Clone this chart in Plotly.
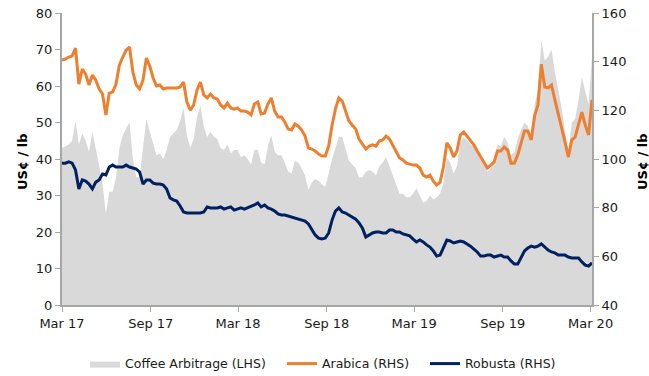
import pandas as pd
import plotly.graph_objects as go

# Weekly observations, Mar 2017 - Mar 2020 (US cents per lb)
dates = pd.date_range("2017-03-01", periods=158, freq="7D")

arabica = [
    140.7, 141.1, 141.9, 142.3, 145.6, 130.8, 137.0, 134.9, 130.4, 134.5,
    132.5, 128.8, 126.7, 118.1, 127.1, 127.5, 130.8, 138.6, 141.9, 144.8,
    146.0, 135.7, 130.4, 128.8, 132.5, 141.5, 138.2, 133.3, 130.0, 130.4,
    128.8, 129.2, 129.2, 129.2, 129.2, 129.6, 131.6, 123.4, 120.1, 122.2,
    128.4, 131.6, 126.3, 125.1, 126.7, 125.1, 124.7, 122.2, 121.0, 123.0,
    121.0, 120.5, 121.0, 119.7, 119.7, 119.3, 118.1, 122.6, 123.4, 118.5,
    118.9, 122.6, 125.1, 119.7, 117.3, 117.3, 115.2, 112.3, 111.9, 114.4,
    113.5, 111.9, 109.4, 104.5, 104.1, 103.3, 102.0, 101.2, 101.2, 105.3,
    113.9, 120.5, 125.1, 123.8, 120.1, 115.6, 113.9, 112.3, 108.2, 106.2,
    104.1, 105.3, 105.8, 105.3, 107.4, 107.8, 109.4, 108.2, 105.8, 102.9,
    100.4, 99.6, 98.3, 97.9, 97.5, 97.5, 96.3, 93.4, 92.6, 93.4,
    90.9, 89.3, 90.5, 96.7, 106.6, 104.5, 100.8, 103.3, 109.9, 111.1,
    109.4, 107.8, 105.8, 103.3, 100.8, 98.8, 96.3, 97.5, 98.8, 103.3,
    103.3, 104.9, 103.7, 98.3, 98.3, 101.6, 107.0, 111.5, 111.5, 107.8,
    117.7, 122.2, 139.0, 129.6, 129.2, 130.4, 124.3, 118.9, 113.5, 107.0,
    100.8, 107.8, 109.0, 113.9, 119.3, 113.9, 109.9, 124.3,
]

robusta = [
    98.3, 98.3, 98.8, 98.3, 95.5, 87.7, 91.4, 90.9, 89.7, 87.7,
    90.5, 91.4, 93.8, 93.4, 96.7, 97.5, 96.7, 96.7, 96.7, 97.5,
    96.7, 96.3, 95.9, 94.6, 89.7, 91.4, 91.4, 90.1, 89.7, 89.7,
    89.3, 87.7, 84.0, 83.2, 82.7, 80.7, 78.2, 77.8, 77.8, 77.8,
    77.8, 77.8, 78.2, 80.3, 79.9, 79.9, 79.9, 80.3, 79.4, 79.9,
    80.3, 79.0, 79.4, 79.9, 79.4, 79.9, 80.3, 81.1, 81.9, 80.3,
    81.1, 79.9, 79.4, 78.6, 77.4, 77.0, 77.0, 76.6, 76.2, 75.8,
    75.3, 74.9, 74.5, 73.3, 70.8, 68.8, 67.5, 67.1, 67.5, 69.6,
    74.9, 78.6, 79.9, 78.2, 77.8, 77.0, 76.2, 75.3, 73.7, 71.6,
    67.9, 68.8, 69.6, 70.0, 70.0, 69.6, 69.6, 70.8, 70.8, 70.0,
    70.0, 69.2, 68.8, 68.4, 67.1, 65.9, 66.7, 65.9, 64.7, 63.8,
    62.2, 60.1, 60.5, 63.8, 66.7, 66.3, 65.5, 65.9, 66.3, 65.9,
    65.1, 64.2, 63.0, 61.8, 60.1, 60.1, 60.5, 60.5, 59.7, 60.1,
    60.5, 59.7, 59.7, 58.1, 56.8, 56.8, 59.7, 62.2, 63.4, 64.2,
    63.8, 64.2, 65.1, 63.8, 62.6, 61.8, 61.4, 60.5, 60.5, 60.5,
    59.7, 59.3, 59.3, 59.3, 57.7, 56.4, 56.0, 57.3,
]

arbitrage = [
    43.0, 43.5, 44.0, 45.0, 50.5, 44.0, 47.0, 45.0, 42.0, 47.5,
    43.0, 38.5, 33.5, 25.0, 31.0, 31.0, 35.0, 43.0, 46.5, 48.5,
    50.0, 40.0, 35.0, 35.0, 44.0, 51.0, 47.5, 44.0, 41.0, 41.5,
    40.0, 42.5, 46.0, 47.0, 48.0, 50.5, 54.0, 46.5, 43.0, 45.5,
    51.5, 54.5, 49.0, 46.0, 47.5, 46.0, 45.5, 43.0, 42.5, 44.0,
    41.5, 42.5, 42.5, 40.5, 41.0, 40.0, 38.5, 42.5, 42.5, 39.0,
    38.5, 43.5, 46.5, 42.0, 41.0, 41.0, 39.0, 36.5, 36.0, 39.5,
    39.0, 37.5, 35.5, 31.5, 33.5, 34.5, 34.0, 33.0, 32.5, 36.0,
    40.0, 43.0, 46.0, 46.0, 43.0, 39.5, 38.5, 37.5, 35.0, 35.0,
    36.5, 37.0, 36.5, 35.5, 38.0, 39.0, 40.5, 38.0, 35.5, 33.0,
    30.5, 30.5, 29.5, 29.5, 30.5, 32.0, 30.0, 28.0, 28.5, 30.0,
    29.0, 29.5, 30.5, 33.5, 40.5, 39.0, 36.0, 38.0, 44.5, 46.0,
    45.0, 44.0, 43.5, 42.0, 41.0, 39.0, 36.5, 37.5, 39.5, 44.0,
    43.5, 46.0, 44.5, 41.0, 42.0, 45.5, 48.0, 50.0, 49.0, 44.5,
    55.0, 59.0, 72.5, 67.0, 68.0, 70.0, 64.0, 59.5, 54.0, 47.5,
    42.0, 50.0, 51.0, 56.0, 62.5, 58.5, 55.0, 68.0,
]

ORANGE = "#EE7F2F"
NAVY = "#002060"
AREA = "#D9D9D9"
AXIS = "#A6A6A6"
FONT = "DejaVu Sans"

fig = go.Figure()

fig.add_trace(go.Scatter(
    x=dates, y=arbitrage, name="Coffee Arbitrage (LHS)",
    mode="lines", line=dict(width=0, color=AREA),
    fill="tozeroy", fillcolor=AREA, yaxis="y", legend="legend",
))
fig.add_trace(go.Scatter(
    x=dates, y=arabica, name="Arabica (RHS)",
    mode="lines", line=dict(width=3, color=ORANGE), yaxis="y2",
    legend="legend2",
))
fig.add_trace(go.Scatter(
    x=dates, y=robusta, name="Robusta (RHS)",
    mode="lines", line=dict(width=3, color=NAVY), yaxis="y2",
    legend="legend3",
))

tick_font = dict(family=FONT, size=13, color="#1a1a1a")
title_font = dict(family=FONT, size=13, color="#000000", weight="bold")
legend_font = dict(family=FONT, size=12.5, color="#1a1a1a")


def legend_box(x):
    return dict(
        xref="container", yref="container", x=x, xanchor="left",
        y=0.032, yanchor="middle", font=legend_font, itemwidth=30,
        bgcolor="rgba(0,0,0,0)",
    )


def axis_title(x):
    return dict(
        text="US¢ / lb", xref="paper", yref="paper", x=x, y=0.493,
        xanchor="center", yanchor="middle", textangle=-90,
        showarrow=False, font=title_font,
    )


fig.update_layout(
    width=649, height=376,
    margin=dict(l=62, r=57, t=13, b=71, autoexpand=False),
    paper_bgcolor="white", plot_bgcolor="white",
    showlegend=True,
    legend=legend_box(85 / 649),
    legend2=legend_box(282 / 649),
    legend3=legend_box(425 / 649),
    annotations=[axis_title(-0.0755), axis_title(1.0943)],
    xaxis=dict(
        type="date", range=["2017-03-01", "2020-03-04"],
        tick0="2017-03-01", dtick="M6", tickformat="%b %y",
        showgrid=False, zeroline=False, automargin=False,
        showline=True, linecolor=AXIS, linewidth=2,
        ticks="outside", ticklen=5, tickcolor=AXIS, tickwidth=1,
        tickfont=tick_font,
    ),
    yaxis=dict(
        range=[0, 80], dtick=10, showgrid=False, zeroline=False,
        automargin=False,
        showline=True, linecolor=AXIS, linewidth=2,
        ticks="outside", ticklen=5, tickcolor=AXIS, tickwidth=1,
        tickfont=tick_font,
    ),
    yaxis2=dict(
        range=[40, 160], dtick=20, overlaying="y", side="right",
        showgrid=False, zeroline=False, automargin=False,
        showline=True, linecolor=AXIS, linewidth=2,
        ticks="outside", ticklen=5, tickcolor=AXIS, tickwidth=1,
        tickfont=tick_font,
    ),
)

fig.write_html("out.html")
